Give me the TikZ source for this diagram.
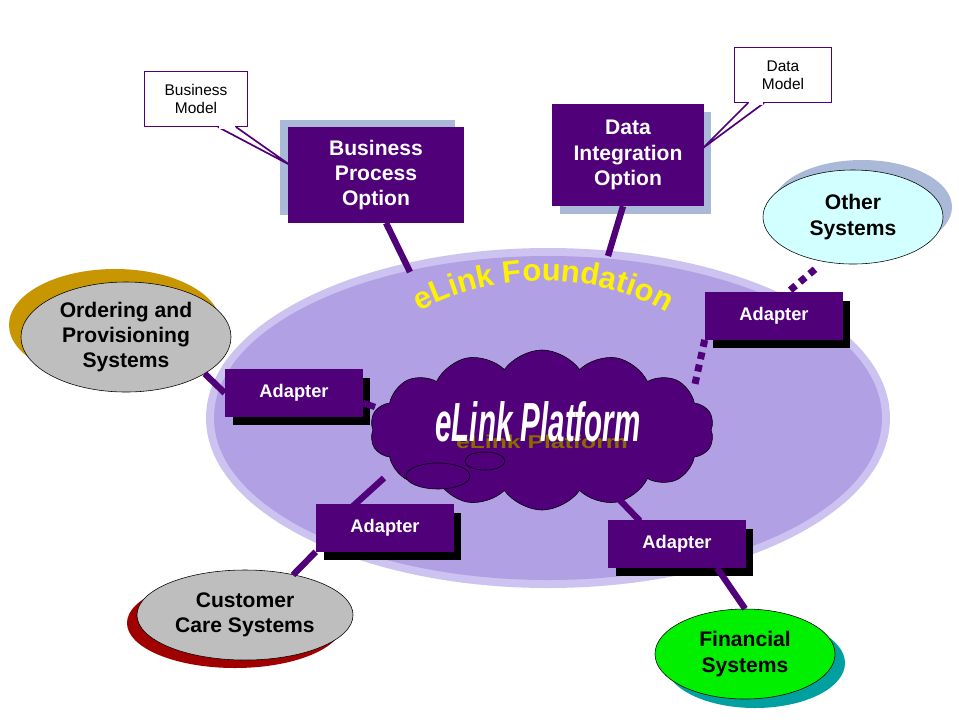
\documentclass[tikz,border=0pt]{standalone}
\usepackage{fontspec}
\setmainfont{Liberation Sans}
\usetikzlibrary{shapes.geometric, shapes.symbols, decorations.text, positioning, calc}
\definecolor{plum}{RGB}{80, 0, 120}
\definecolor{lavender}{RGB}{178, 160, 228}
\definecolor{lavrim}{RGB}{205, 195, 240}
\definecolor{shadowblue}{RGB}{170, 185, 215}
\definecolor{sysgray}{RGB}{190, 190, 190}
\definecolor{skycyan}{RGB}{210, 255, 255}
\definecolor{limegreen2}{RGB}{0, 240, 0}
\definecolor{gold2}{RGB}{200, 150, 0}
\definecolor{darkred2}{RGB}{160, 0, 0}
\definecolor{teal2}{RGB}{0, 160, 160}

\begin{document}
\begin{tikzpicture}[x=0.025cm, y=-0.025cm,
    option/.style={rectangle, fill=plum, text=white, font=\bfseries\fontsize{15}{18}\selectfont,
                   align=center, inner sep=0pt},
    adapter/.style={rectangle, fill=plum, text=white, font=\bfseries\fontsize{13}{15}\selectfont,
                    minimum width=3.45cm, minimum height=1.18cm, inner sep=0pt},
    callout/.style={rectangle, fill=white, draw=plum, line width=1.2pt, align=center,
                    font=\fontsize{11}{13}\selectfont, inner sep=0pt},
    system/.style={ellipse, draw=black, line width=0.4pt, align=center,
                   font=\bfseries\fontsize{15}{18}\selectfont, inner sep=0pt},
    link/.style={plum, line width=4.5pt},
    dotlink/.style={plum, line width=5pt, dash pattern=on 5pt off 4pt}]

    % Frame
    \useasboundingbox (0,0) rectangle (959,719);
    \fill[white] (0,0) rectangle (959,719);

    % Foundation ellipse
    \fill[lavrim] (548,418) ellipse (342 and 170);
    \fill[lavender] (548,418) ellipse (334 and 162);

    % Platform cloud
    \node[cloud, cloud puffs=14, cloud puff arc=110, aspect=2.3, fill=plum, draw=black,
          minimum width=8.6cm, minimum height=4.0cm] (platform) at (542,430) {};
    \draw[black, fill=plum] (438,476) ellipse (32 and 13);
    \draw[black, fill=plum] (485,461) ellipse (20 and 9);
    \node[text=gold2!70!black, font=\bfseries\fontsize{22}{24}\selectfont, xscale=0.8, yscale=0.6]
          at (542,442) {eLink Platform};
    \node[text=white, font=\bfseries\itshape\fontsize{28}{30}\selectfont, xscale=0.75, yscale=1.4]
          (platformtxt) at (538,422) {eLink Platform};

    % Foundation label along an arc
    \path[decorate, decoration={text along path, text align=center,
          text={|\bfseries\fontsize{22}{24}\selectfont\color{yellow}|eLink Foundation}}]
          (385,335) .. controls (470,262) and (620,262) .. (700,338);

    % Options
    \fill[shadowblue] (280,120) rectangle (455,215);
    \node[option, minimum width=4.38cm, minimum height=2.38cm] (bpo) at (376,175)
          {Business\\Process\\Option};
    \fill[shadowblue] (560,112) rectangle (711,214);
    \node[option, minimum width=3.78cm, minimum height=2.55cm] (dio) at (628,155)
          {Data\\Integration\\Option};

    % Callouts
    \node[callout, minimum width=2.58cm, minimum height=1.38cm] (bm) at (196,99) {Business\\Model};
    \fill[white, draw=plum, line width=1.2pt] (218,127) -- (290,165) -- (236,127);
    \fill[white] (219,125) rectangle (235,128.5);
    \node[callout, minimum width=2.43cm, minimum height=1.38cm] (dm) at (783,75) {Data\\Model};
    \fill[white, draw=plum, line width=1.2pt] (748,103) -- (703,148) -- (764,103);
    \fill[white] (749,101) rectangle (763,104.5);

    % Adapters
    \foreach \name/\x/\y in {adl/294/393, adr/774/316, adbl/385/528, adbr/677/544}{
        \fill[black] (\x-61,\y-15) rectangle (\x+76,\y+32);
        \node[adapter] (\name) at (\x,\y) {Adapter};
    }

    % Systems
    \fill[gold2] (115,325) ellipse (106 and 56);
    \node[system, fill=sysgray, minimum width=5.25cm, minimum height=2.75cm] (ops) at (126,337)
          {Ordering and\\Provisioning\\Systems};
    \fill[shadowblue] (862,207) ellipse (90 and 47);
    \node[system, fill=skycyan, minimum width=4.5cm, minimum height=2.35cm] (oth) at (853,217)
          {Other\\Systems};
    \fill[darkred2] (235,623) ellipse (108 and 45);
    \node[system, fill=sysgray, minimum width=5.4cm, minimum height=2.25cm] (ccs) at (245,615)
          {Customer\\Care Systems};
    \fill[teal2] (755,663) ellipse (90 and 45);
    \node[system, fill=limegreen2, minimum width=4.5cm, minimum height=2.25cm] (fin) at (745,654)
          {Financial\\Systems};
    \coordinate (ccsin) at ($(ccs.center)+(48,-40)$);

    % Connectors
    \draw[link] (bpo.south) ++(10,0) -- (410,272);
    \draw[link] (dio.south) ++(-5,0) -- (608,256);
    \draw[link] (ops.-25) -- (adl.west);
    \draw[link] (adl.east) ++(0,10) -- (375,407);
    \draw[link] (384,478) -- (352,507);
    \draw[link] (adbl.south west) -- (ccsin);
    \draw[link] (612,492) -- (640,521);
    \draw[link] (adbr.south) ++(40,0) -- (fin.north);
    \draw[dotlink] (oth.south) ++(-38,5) -- (788,292);
    \draw[dotlink] (adr.south west) -- (695,384);
\end{tikzpicture}
\end{document}
